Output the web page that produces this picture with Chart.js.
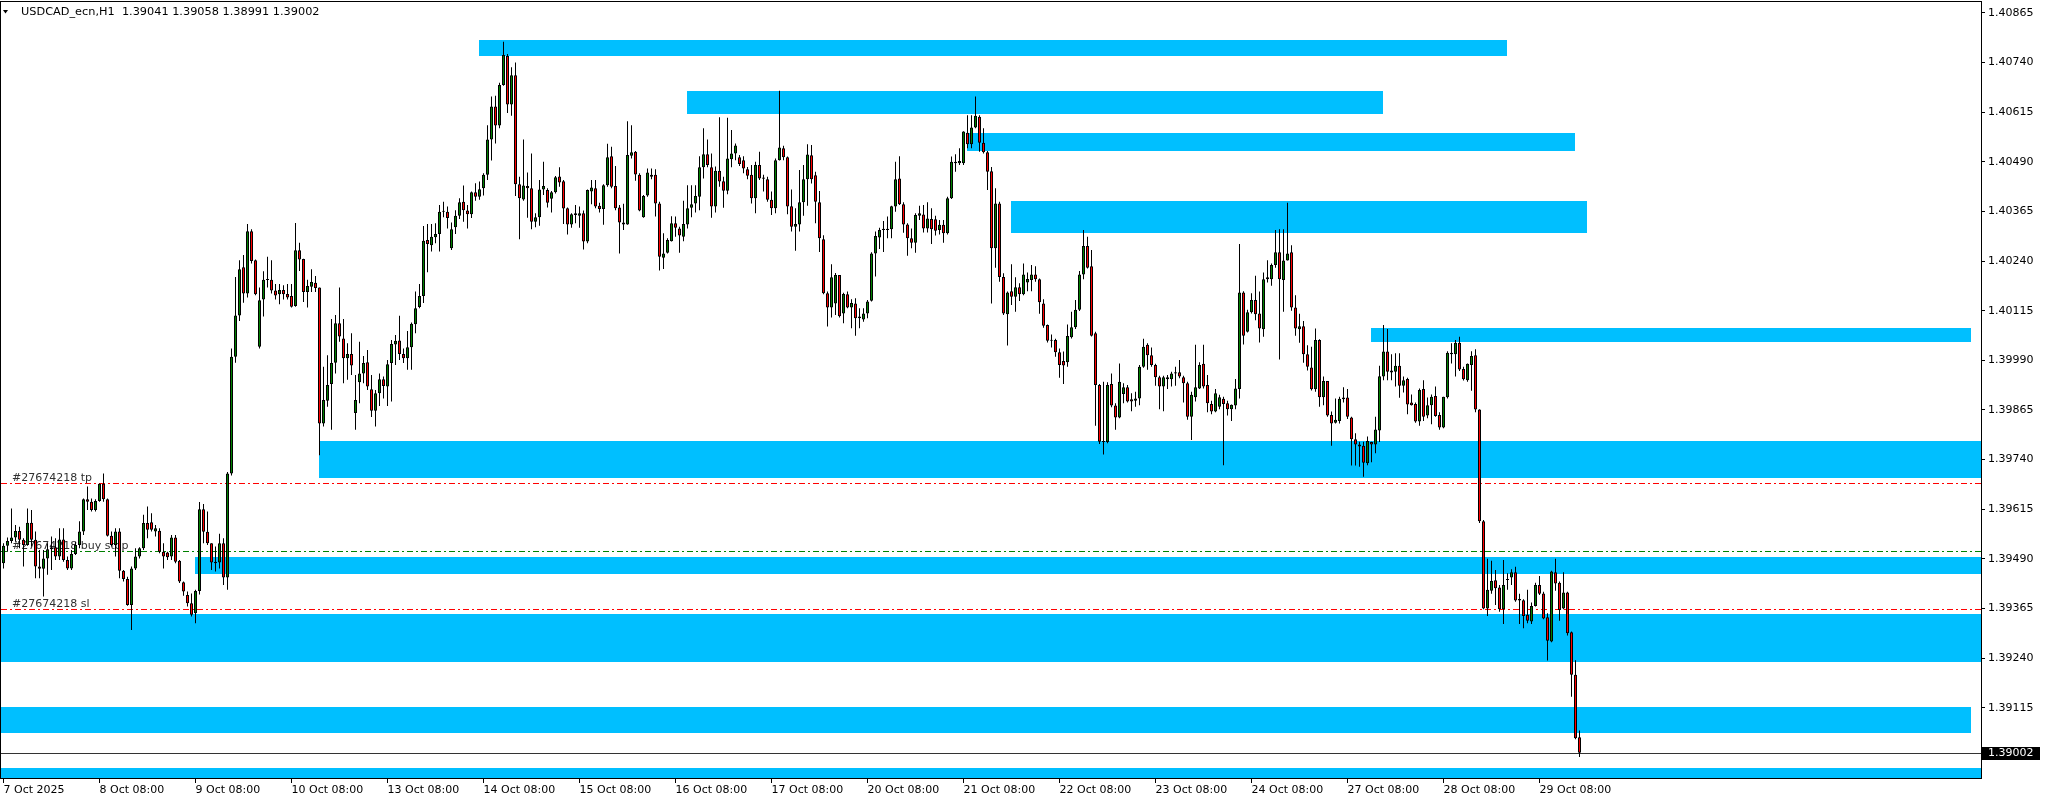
<!DOCTYPE html>
<html><head><meta charset="utf-8">
<script src="https://cdn.jsdelivr.net/npm/chart.js@4.4.1/dist/chart.umd.min.js"></script>
<style>html,body{margin:0;padding:0;background:#fff;overflow:hidden}canvas{display:block}</style>
</head><body>
<canvas id="c" width="2045" height="802"></canvas>
<script>
const symbolTitle = 'USDCAD_ecn,H1  1.39041 1.39058 1.38991 1.39002';

const opens = [
1.39479,1.39523,1.39535,1.39544,1.39560,1.39538,1.39525,1.39581,1.39538,1.39471,
1.39465,1.39491,1.39514,1.39519,1.39496,1.39539,1.39487,1.39466,1.39502,1.39525,
1.39559,1.39640,1.39634,1.39613,1.39636,1.39679,1.39640,1.39548,1.39525,1.39559,
1.39460,1.39439,1.39374,1.39466,1.39496,1.39517,1.39580,1.39582,1.39559,1.39561,
1.39508,1.39506,1.39496,1.39544,1.39485,1.39431,1.39399,1.39378,1.39353,1.39409,
1.39615,1.39558,1.39529,1.39483,1.39481,1.39529,1.39443,1.39705,1.39999,1.40103,
1.40224,1.40158,1.40315,1.40242,1.40024,1.40143,1.40193,1.40193,1.40166,1.40156,
1.40167,1.40157,1.40152,1.40127,1.40267,1.40245,1.40162,1.40175,1.40185,1.40173,
1.39831,1.39888,1.39930,1.39984,1.40083,1.40045,1.39995,1.40006,1.39857,1.39935,
1.39957,1.39985,1.39917,1.39863,1.39907,1.39942,1.39924,1.39983,1.40030,1.40040,
1.40006,1.39995,1.40023,1.40081,1.40124,1.40152,1.40293,1.40280,1.40300,1.40308,
1.40364,1.40364,1.40272,1.40325,1.40354,1.40389,1.40367,1.40358,1.40413,1.40402,
1.40423,1.40457,1.40546,1.40629,1.40581,1.40683,1.40756,1.40634,1.40708,1.40433,
1.40395,1.40429,1.40423,1.40339,1.40350,1.40420,1.40419,1.40397,1.40413,1.40453,
1.40441,1.40373,1.40332,1.40356,1.40354,1.40360,1.40289,1.40415,1.40423,1.40379,
1.40371,1.40431,1.40504,1.40429,1.40375,1.40337,1.40332,1.40505,1.40515,1.40457,
1.40350,1.40405,1.40457,1.40457,1.40385,1.40248,1.40261,1.40290,1.40335,1.40322,
1.40301,1.40332,1.40374,1.40385,1.40402,1.40476,1.40509,1.40476,1.40377,1.40467,
1.40441,1.40417,1.40496,1.40511,1.40501,1.40494,1.40471,1.40457,1.40398,1.40482,
1.40450,1.40446,1.40394,1.40373,1.40494,1.40524,1.40501,1.40378,1.40326,1.40332,
1.40388,1.40446,1.40506,1.40456,1.40388,1.40295,1.40159,1.40123,1.40133,1.40205,
1.40108,1.40156,1.40123,1.40133,1.40100,1.40093,1.40108,1.40140,1.40259,1.40299,
1.40318,1.40321,1.40320,1.40377,1.40448,1.40383,1.40332,1.40297,1.40286,1.40354,
1.40357,1.40322,1.40346,1.40345,1.40318,1.40331,1.40310,1.40398,1.40490,1.40486,
1.40486,1.40563,1.40534,1.40576,1.40603,1.40538,1.40514,1.40466,1.40272,1.40385,
1.40200,1.40106,1.40164,1.40150,1.40174,1.40156,1.40186,1.40192,1.40206,1.40194,
1.40133,1.40079,1.40041,1.40041,1.40010,1.39988,1.39985,1.40048,1.40073,1.40117,
1.40206,1.40278,1.40227,1.40058,1.39928,1.39785,1.39784,1.39930,1.39876,1.39846,
1.39905,1.39922,1.39892,1.39888,1.39894,1.39974,1.40029,1.40003,1.39978,1.39947,
1.39924,1.39942,1.39942,1.39957,1.39960,1.39947,1.39932,1.39848,1.39897,1.39919,
1.39981,1.39928,1.39880,1.39861,1.39873,1.39893,1.39882,1.39867,1.39876,1.39918,
1.40161,1.40062,1.40111,1.40142,1.40108,1.40068,1.40194,1.40194,1.40230,1.40262,
1.40192,1.40241,1.40262,1.40123,1.40068,1.40076,1.40005,1.39972,1.39917,1.40041,
1.39897,1.39938,1.39852,1.39833,1.39837,1.39892,1.39896,1.39846,1.39791,1.39778,
1.39775,1.39731,1.39784,1.39778,1.39813,1.39949,1.40012,1.39959,1.39961,1.39976,
1.39926,1.39943,1.39884,1.39880,1.39836,1.39918,1.39851,1.39877,1.39900,1.39852,
1.39821,1.39897,1.40009,1.40005,1.40034,1.39968,1.39940,1.39978,1.40003,1.39866,
1.39585,1.39365,1.39410,1.39436,1.39418,1.39363,1.39437,1.39443,1.39456,1.39389,
1.39386,1.39349,1.39332,1.39371,1.39424,1.39403,1.39343,1.39282,1.39456,1.39430,
1.39365,1.39405,1.39305,1.39198,1.39041];

const highs = [
1.39529,1.39544,1.39617,1.39575,1.39571,1.39542,1.39617,1.39613,1.39559,1.39512,
1.39512,1.39529,1.39546,1.39542,1.39567,1.39567,1.39496,1.39512,1.39533,1.39585,
1.39642,1.39672,1.39642,1.39640,1.39680,1.39705,1.39642,1.39559,1.39567,1.39567,
1.39462,1.39445,1.39471,1.39517,1.39519,1.39601,1.39622,1.39605,1.39575,1.39567,
1.39529,1.39508,1.39550,1.39550,1.39487,1.39433,1.39408,1.39403,1.39412,1.39633,
1.39628,1.39609,1.39529,1.39521,1.39553,1.39542,1.39709,1.40020,1.40200,1.40242,
1.40255,1.40333,1.40320,1.40244,1.40173,1.40214,1.40251,1.40242,1.40182,1.40182,
1.40179,1.40182,1.40182,1.40336,1.40286,1.40246,1.40193,1.40219,1.40202,1.40173,
1.39974,1.40003,1.40094,1.40104,1.40173,1.40094,1.40033,1.40058,1.39953,1.40037,
1.40001,1.40016,1.39953,1.39915,1.39957,1.39949,1.39991,1.40041,1.40054,1.40102,
1.40020,1.40064,1.40085,1.40163,1.40182,1.40328,1.40333,1.40333,1.40335,1.40381,
1.40389,1.40377,1.40337,1.40368,1.40398,1.40430,1.40381,1.40415,1.40436,1.40440,
1.40461,1.40582,1.40654,1.40656,1.40689,1.40792,1.40761,1.40728,1.40740,1.40452,
1.40546,1.40463,1.40511,1.40360,1.40444,1.40490,1.40423,1.40416,1.40454,1.40476,
1.40444,1.40375,1.40360,1.40381,1.40377,1.40367,1.40420,1.40444,1.40444,1.40387,
1.40433,1.40535,1.40528,1.40479,1.40381,1.40384,1.40592,1.40582,1.40517,1.40461,
1.40406,1.40473,1.40473,1.40471,1.40389,1.40310,1.40297,1.40353,1.40352,1.40326,
1.40392,1.40431,1.40431,1.40431,1.40504,1.40574,1.40546,1.40511,1.40478,1.40602,
1.40452,1.40601,1.40570,1.40536,1.40507,1.40504,1.40477,1.40482,1.40490,1.40515,
1.40457,1.40452,1.40415,1.40498,1.40669,1.40530,1.40503,1.40420,1.40373,1.40469,
1.40482,1.40534,1.40532,1.40465,1.40416,1.40305,1.40163,1.40232,1.40210,1.40205,
1.40160,1.40163,1.40144,1.40146,1.40121,1.40121,1.40142,1.40262,1.40314,1.40324,
1.40341,1.40352,1.40379,1.40490,1.40504,1.40388,1.40335,1.40322,1.40360,1.40379,
1.40381,1.40388,1.40373,1.40354,1.40343,1.40343,1.40402,1.40503,1.40509,1.40524,
1.40567,1.40607,1.40607,1.40654,1.40607,1.40574,1.40517,1.40477,1.40423,1.40389,
1.40209,1.40163,1.40232,1.40199,1.40184,1.40234,1.40211,1.40230,1.40227,1.40196,
1.40144,1.40080,1.40055,1.40044,1.40020,1.40012,1.40080,1.40112,1.40142,1.40215,
1.40318,1.40301,1.40268,1.40062,1.39930,1.39936,1.39935,1.39957,1.39882,1.39982,
1.39932,1.39928,1.39907,1.39911,1.39978,1.40044,1.40033,1.40022,1.39981,1.39951,
1.39951,1.39953,1.39961,1.39974,1.39991,1.39951,1.39936,1.39911,1.40029,1.39985,
1.40029,1.39953,1.39888,1.39918,1.39903,1.39898,1.39888,1.39879,1.39943,1.40283,
1.40164,1.40117,1.40159,1.40203,1.40163,1.40211,1.40242,1.40234,1.40318,1.40320,
1.40320,1.40387,1.40280,1.40154,1.40107,1.40089,1.40028,1.40024,1.40070,1.40043,
1.39949,1.39938,1.39861,1.39894,1.39898,1.39922,1.39918,1.39848,1.39806,1.39785,
1.39785,1.39798,1.39785,1.39848,1.39976,1.40079,1.40069,1.40005,1.40008,1.40008,
1.39949,1.39946,1.39904,1.39884,1.39919,1.39940,1.39896,1.39904,1.39924,1.39859,
1.39898,1.40013,1.40033,1.40041,1.40049,1.39974,1.39982,1.40013,1.40018,1.39867,
1.39588,1.39490,1.39485,1.39462,1.39424,1.39487,1.39454,1.39464,1.39470,1.39402,
1.39388,1.39412,1.39380,1.39430,1.39447,1.39407,1.39353,1.39460,1.39490,1.39433,
1.39456,1.39407,1.39307,1.39235,1.39058];

const lows = [
1.39466,1.39508,1.39529,1.39533,1.39517,1.39471,1.39523,1.39521,1.39441,1.39441,
1.39395,1.39450,1.39462,1.39487,1.39487,1.39483,1.39462,1.39462,1.39500,1.39517,
1.39550,1.39613,1.39609,1.39609,1.39634,1.39634,1.39546,1.39521,1.39496,1.39441,
1.39433,1.39372,1.39311,1.39462,1.39491,1.39512,1.39542,1.39559,1.39546,1.39504,
1.39466,1.39487,1.39487,1.39479,1.39429,1.39397,1.39370,1.39345,1.39328,1.39400,
1.39529,1.39525,1.39462,1.39458,1.39466,1.39424,1.39412,1.39700,1.39984,1.40089,
1.40135,1.40148,1.40234,1.40154,1.40020,1.40100,1.40173,1.40158,1.40143,1.40131,
1.40143,1.40143,1.40123,1.40125,1.40215,1.40137,1.40123,1.40162,1.40162,1.39751,
1.39823,1.39873,1.39815,1.39957,1.40037,1.39932,1.39941,1.39953,1.39815,1.39882,
1.39932,1.39915,1.39847,1.39823,1.39875,1.39894,1.39875,1.39886,1.39978,1.39991,
1.39983,1.39966,1.39966,1.40058,1.40121,1.40134,1.40212,1.40264,1.40285,1.40264,
1.40350,1.40322,1.40268,1.40308,1.40346,1.40339,1.40322,1.40348,1.40392,1.40394,
1.40405,1.40444,1.40493,1.40536,1.40574,1.40681,1.40613,1.40606,1.40404,1.40295,
1.40392,1.40349,1.40320,1.40325,1.40329,1.40406,1.40375,1.40362,1.40410,1.40427,
1.40333,1.40307,1.40324,1.40335,1.40324,1.40269,1.40285,1.40383,1.40373,1.40362,
1.40331,1.40427,1.40423,1.40368,1.40259,1.40318,1.40331,1.40498,1.40442,1.40365,
1.40349,1.40402,1.40446,1.40352,1.40216,1.40220,1.40259,1.40289,1.40301,1.40261,
1.40290,1.40322,1.40350,1.40362,1.40368,1.40448,1.40476,1.40349,1.40362,1.40427,
1.40374,1.40408,1.40476,1.40494,1.40479,1.40461,1.40446,1.40385,1.40360,1.40444,
1.40415,1.40389,1.40356,1.40360,1.40493,1.40494,1.40358,1.40314,1.40266,1.40314,
1.40354,1.40379,1.40435,1.40335,1.40263,1.40156,1.40075,1.40098,1.40104,1.40098,
1.40083,1.40121,1.40071,1.40052,1.40071,1.40087,1.40096,1.40138,1.40201,1.40270,
1.40263,1.40297,1.40297,1.40364,1.40381,1.40311,1.40253,1.40272,1.40261,1.40343,
1.40312,1.40312,1.40283,1.40304,1.40307,1.40286,1.40307,1.40396,1.40465,1.40482,
1.40482,1.40524,1.40524,1.40574,1.40515,1.40511,1.40419,1.40133,1.40223,1.40188,
1.40104,1.40027,1.40129,1.40112,1.40139,1.40154,1.40164,1.40164,1.40188,1.40107,
1.40072,1.40035,1.40022,1.39999,1.39946,1.39930,1.39974,1.40045,1.40069,1.40114,
1.40194,1.40221,1.40050,1.39825,1.39779,1.39753,1.39781,1.39872,1.39815,1.39844,
1.39882,1.39884,1.39862,1.39873,1.39877,1.39971,1.39966,1.39974,1.39926,1.39867,
1.39862,1.39918,1.39924,1.39926,1.39945,1.39884,1.39840,1.39789,1.39886,1.39918,
1.39919,1.39859,1.39854,1.39859,1.39867,1.39726,1.39851,1.39837,1.39867,1.39894,
1.40030,1.40060,1.40108,1.40091,1.40035,1.40049,1.40186,1.40178,1.40223,1.39992,
1.40112,1.40241,1.40115,1.40052,1.40034,1.39984,1.39964,1.39914,1.39911,1.39873,
1.39877,1.39848,1.39775,1.39831,1.39831,1.39884,1.39842,1.39725,1.39725,1.39722,
1.39697,1.39726,1.39733,1.39756,1.39784,1.39940,1.39940,1.39940,1.39924,1.39896,
1.39909,1.39854,1.39876,1.39833,1.39825,1.39837,1.39844,1.39829,1.39848,1.39815,
1.39819,1.39894,1.39982,1.39949,1.39963,1.39939,1.39936,1.39913,1.39859,1.39580,
1.39363,1.39346,1.39402,1.39374,1.39357,1.39326,1.39412,1.39424,1.39382,1.39326,
1.39315,1.39328,1.39326,1.39370,1.39399,1.39338,1.39234,1.39280,1.39410,1.39334,
1.39363,1.39297,1.39143,1.39036,1.38991];

const closes = [
1.39523,1.39535,1.39544,1.39560,1.39538,1.39525,1.39581,1.39538,1.39471,1.39465,
1.39491,1.39514,1.39519,1.39496,1.39539,1.39487,1.39466,1.39502,1.39525,1.39559,
1.39640,1.39634,1.39613,1.39636,1.39679,1.39640,1.39548,1.39525,1.39559,1.39460,
1.39439,1.39374,1.39466,1.39496,1.39517,1.39580,1.39563,1.39563,1.39567,1.39508,
1.39496,1.39494,1.39544,1.39483,1.39433,1.39408,1.39378,1.39349,1.39409,1.39615,
1.39558,1.39529,1.39481,1.39479,1.39529,1.39443,1.39705,1.39999,1.40103,1.40219,
1.40158,1.40315,1.40240,1.40156,1.40141,1.40193,1.40192,1.40166,1.40153,1.40167,
1.40156,1.40148,1.40125,1.40267,1.40244,1.40162,1.40177,1.40187,1.40172,1.39831,
1.39890,1.39928,1.39983,1.40083,1.40050,1.39995,1.40006,1.39977,1.39890,1.39957,
1.39983,1.39924,1.39863,1.39907,1.39942,1.39925,1.39980,1.40031,1.40039,1.40006,
1.39995,1.40023,1.40082,1.40121,1.40152,1.40291,1.40283,1.40301,1.40308,1.40364,
1.40366,1.40348,1.40320,1.40354,1.40388,1.40368,1.40358,1.40413,1.40402,1.40421,
1.40457,1.40546,1.40629,1.40581,1.40683,1.40759,1.40634,1.40708,1.40433,1.40398,
1.40430,1.40423,1.40339,1.40350,1.40420,1.40429,1.40387,1.40413,1.40451,1.40438,
1.40372,1.40332,1.40358,1.40360,1.40360,1.40289,1.40419,1.40425,1.40377,1.40371,
1.40431,1.40501,1.40427,1.40373,1.40337,1.40332,1.40507,1.40514,1.40458,1.40367,
1.40404,1.40463,1.40452,1.40385,1.40251,1.40259,1.40293,1.40335,1.40324,1.40304,
1.40333,1.40373,1.40383,1.40404,1.40476,1.40509,1.40482,1.40377,1.40467,1.40440,
1.40417,1.40498,1.40511,1.40531,1.40484,1.40473,1.40455,1.40398,1.40482,1.40448,
1.40447,1.40394,1.40373,1.40494,1.40526,1.40501,1.40377,1.40326,1.40333,1.40388,
1.40446,1.40508,1.40446,1.40389,1.40297,1.40159,1.40123,1.40199,1.40205,1.40101,
1.40157,1.40123,1.40134,1.40096,1.40096,1.40108,1.40138,1.40259,1.40303,1.40318,
1.40321,1.40318,1.40378,1.40446,1.40383,1.40332,1.40297,1.40286,1.40356,1.40360,
1.40322,1.40347,1.40320,1.40316,1.40331,1.40310,1.40398,1.40490,1.40486,1.40492,
1.40566,1.40534,1.40576,1.40606,1.40538,1.40514,1.40465,1.40272,1.40385,1.40200,
1.40108,1.40161,1.40150,1.40174,1.40156,1.40206,1.40195,1.40206,1.40194,1.40136,
1.40077,1.40039,1.40039,1.40010,1.39978,1.39977,1.40051,1.40073,1.40117,1.40206,
1.40278,1.40223,1.40052,1.39928,1.39785,1.39784,1.39928,1.39876,1.39846,1.39936,
1.39922,1.39886,1.39886,1.39894,1.39974,1.40024,1.40003,1.39978,1.39947,1.39924,
1.39947,1.39947,1.39957,1.39960,1.39949,1.39932,1.39848,1.39903,1.39922,1.39978,
1.39924,1.39882,1.39861,1.39907,1.39897,1.39880,1.39867,1.39878,1.39919,1.40161,
1.40052,1.40111,1.40142,1.40106,1.40070,1.40194,1.40199,1.40230,1.40262,1.40194,
1.40241,1.40259,1.40123,1.40070,1.40076,1.40005,1.39974,1.39917,1.40041,1.39897,
1.39938,1.39851,1.39831,1.39840,1.39893,1.39896,1.39848,1.39791,1.39778,1.39773,
1.39732,1.39787,1.39778,1.39816,1.39950,1.40012,1.39961,1.39964,1.39976,1.39926,
1.39940,1.39879,1.39877,1.39836,1.39915,1.39848,1.39877,1.39898,1.39850,1.39821,
1.39898,1.40009,1.40005,1.40034,1.39967,1.39942,1.39981,1.40001,1.39866,1.39585,
1.39365,1.39412,1.39434,1.39416,1.39363,1.39424,1.39439,1.39456,1.39385,1.39385,
1.39346,1.39334,1.39371,1.39424,1.39402,1.39340,1.39284,1.39458,1.39428,1.39361,
1.39405,1.39303,1.39198,1.39038,1.39002];

// time axis: bar index of each labelled bar, and its label
const xTickBars = [0,24,48,72,96,120,144,168,192,216,240,264,288,312,336,360,384];
const xTickLabels = ['7 Oct 2025','8 Oct 08:00','9 Oct 08:00','10 Oct 08:00','13 Oct 08:00','14 Oct 08:00','15 Oct 08:00','16 Oct 08:00','17 Oct 08:00','20 Oct 08:00','21 Oct 08:00','22 Oct 08:00','23 Oct 08:00','24 Oct 08:00','27 Oct 08:00','28 Oct 08:00','29 Oct 08:00'];
const yTickValues = [1.40865,1.40740,1.40615,1.40490,1.40365,1.40240,1.40115,1.39990,1.39865,1.39740,1.39615,1.39490,1.39365,1.39240,1.39115,1.38990];

// supply / demand zones (bar index range, price range)
const zoneStart  = [119, 171, 241, 252, 342, 79, 48, -5, -5, -5];
const zoneEnd    = [376, 345, 393, 396, 492, 600, 600, 600, 492, 600];
const zoneTop    = [1.40797,1.40668,1.40563,1.40391,1.40071,1.39787,1.39495,1.39352,1.39118,1.38963];
const zoneBottom = [1.40757,1.40611,1.40518,1.40311,1.40037,1.39694,1.39453,1.39231,1.39052,1.38900];

// pending order levels
const orderLevels = [1.39681, 1.39510, 1.39365];
const orderLabels = ['#27674218 tp', '#27674218 buy stop', '#27674218 sl'];
const orderColors = ['#ff0000', '#008000', '#ff0000'];
const lastPrice = 1.39002;

const FONT = '11px "DejaVu Sans"';
const barIdx = opens.map((_, i) => i);

const overlay = {
  id: 'overlay',
  beforeDraw(chart) {
    const ctx = chart.ctx;
    ctx.save(); ctx.fillStyle = '#fff'; ctx.fillRect(0, 0, chart.width, chart.height); ctx.restore();
  },
  beforeDatasetsDraw(chart) {
    const {ctx, chartArea: a, scales: {x, y}} = chart;
    ctx.save();
    ctx.beginPath(); ctx.rect(a.left, a.top, a.right - a.left, a.bottom - a.top); ctx.clip();
    ctx.fillStyle = '#00bfff';
    for (let k = 0; k < zoneStart.length; k++) {
      const x0 = Math.floor(x.getPixelForValue(zoneStart[k]));
      const x1 = Math.floor(x.getPixelForValue(zoneEnd[k]));
      const y0 = Math.round(y.getPixelForValue(zoneTop[k]));
      const y1 = Math.round(y.getPixelForValue(zoneBottom[k]));
      ctx.fillRect(x0, y0, x1 - x0, y1 - y0);
    }
    // last price line
    const ly = Math.round(y.getPixelForValue(lastPrice)) + 0.5;
    ctx.strokeStyle = '#333'; ctx.lineWidth = 1; ctx.setLineDash([]);
    ctx.beginPath(); ctx.moveTo(a.left, ly); ctx.lineTo(a.right, ly); ctx.stroke();
    // order lines
    ctx.font = FONT; ctx.textBaseline = 'alphabetic'; ctx.textAlign = 'left';
    for (let k = 0; k < orderLevels.length; k++) {
      const oy = Math.round(y.getPixelForValue(orderLevels[k])) + 0.5;
      ctx.strokeStyle = orderColors[k]; ctx.setLineDash([6, 3, 2, 3]);
      ctx.beginPath(); ctx.moveTo(a.left, oy); ctx.lineTo(a.right, oy); ctx.stroke();
      ctx.fillStyle = '#303030';
      ctx.fillText(orderLabels[k], 12, oy - 2.5);
    }
    ctx.restore();
  },
  afterDraw(chart) {
    const {ctx, chartArea: a, scales: {y}} = chart;
    ctx.save();
    ctx.strokeStyle = '#000'; ctx.lineWidth = 1; ctx.setLineDash([]);
    ctx.strokeRect(a.left - 0.5, a.top - 0.5, a.right - a.left + 1, a.bottom - a.top + 1);
    // header
    ctx.fillStyle = '#000';
    ctx.beginPath(); ctx.moveTo(3, 10); ctx.lineTo(8, 10); ctx.lineTo(5.5, 13.5); ctx.closePath(); ctx.fill();
    ctx.font = '11.3px "DejaVu Sans"'; ctx.textBaseline = 'middle'; ctx.textAlign = 'left';
    ctx.fillText(symbolTitle, 21, 12.5);
    // last price box
    ctx.font = FONT;
    const ly = Math.round(y.getPixelForValue(lastPrice));
    ctx.fillStyle = '#000';
    ctx.fillRect(a.right + 1, ly - 6, 58, 13);
    ctx.fillStyle = '#fff';
    ctx.fillText(lastPrice.toFixed(5), a.right + 7, ly + 0.5);
    ctx.restore();
  }
};

new Chart(document.getElementById('c'), {
  type: 'bar',
  data: {
    datasets: [
      {
        label: 'wicks',
        data: barIdx.map(i => ({x: i, y: [lows[i], highs[i]]})),
        backgroundColor: '#000', borderWidth: 0, barThickness: 1,
        grouped: false, order: 2, inflateAmount: 0
      },
      {
        label: 'bodies',
        data: barIdx.map(i => ({x: i, y: [opens[i], closes[i]]})),
        backgroundColor: barIdx.map(i => closes[i] >= opens[i] ? '#008000' : '#ff0000'),
        borderColor: '#000', borderWidth: 1, borderSkipped: false,
        barThickness: 3, grouped: false, order: 1, inflateAmount: 0, minBarLength: 1
      }
    ]
  },
  options: {
    responsive: false, animation: false, devicePixelRatio: 1,
    layout: {padding: {left: 1, top: 2, right: 0, bottom: 0}, autoPadding: false},
    plugins: {legend: {display: false}, tooltip: {enabled: false}},
    events: [],
    scales: {
      x: {
        type: 'linear', min: -0.625, max: 494.375, bounds: 'data', offset: false,
        afterBuildTicks(s) { s.ticks = xTickBars.map(v => ({value: v})); },
        afterFit(s) { s.height = 24; s.paddingLeft = 0; s.paddingRight = 0; s.paddingTop = 0; s.paddingBottom = 0; },
        ticks: {
          autoSkip: false, maxRotation: 0, minRotation: 0, align: 'start', padding: 1,
          color: '#000', font: {family: 'DejaVu Sans', size: 11},
          callback(v) { const k = xTickBars.indexOf(v); return k >= 0 ? xTickLabels[k] : ''; }
        },
        grid: {drawOnChartArea: false, drawTicks: true, tickLength: 5, color: '#000', offset: false},
        border: {display: false}
      },
      y: {
        type: 'linear', position: 'right', min: 1.389382, max: 1.408922, bounds: 'data',
        afterBuildTicks(s) { s.ticks = yTickValues.map(v => ({value: v})); },
        afterFit(s) { s.width = 64; s.paddingLeft = 0; s.paddingRight = 0; s.paddingTop = 0; s.paddingBottom = 0; },
        ticks: {
          autoSkip: false, padding: 3, color: '#000', font: {family: 'DejaVu Sans', size: 11},
          callback(v) { return Number(v).toFixed(5); }
        },
        grid: {drawOnChartArea: false, drawTicks: true, tickLength: 4, color: '#000'},
        border: {display: false}
      }
    }
  },
  plugins: [overlay]
});
</script>
</body></html>
